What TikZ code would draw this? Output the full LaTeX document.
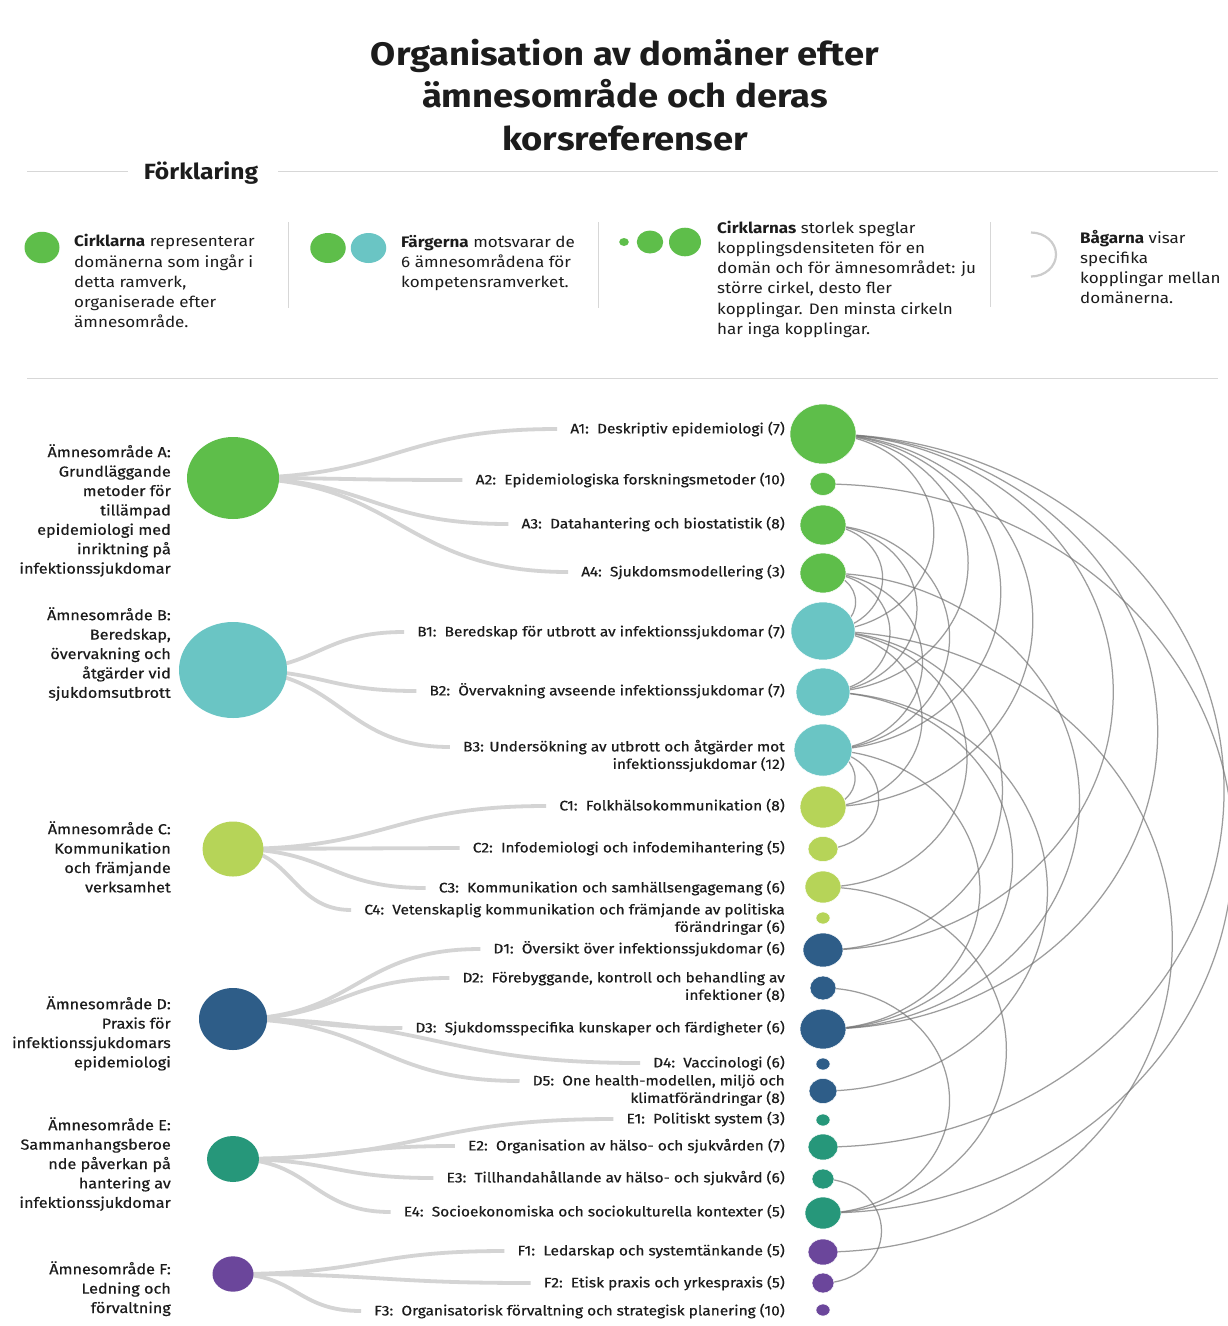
\documentclass[tikz,border=0pt]{standalone}
\usepackage{fontspec}
\setmainfont{Fira Sans}[FakeStretch=1.12]
\newfontfamily\medfont{Fira Sans}[FakeStretch=1.12, FakeBold=0.5]
\usetikzlibrary{shapes.geometric,calc}
\definecolor{cA}{RGB}{94,190,74}
\definecolor{cB}{RGB}{106,197,196}
\definecolor{cC}{RGB}{182,212,88}
\definecolor{cD}{RGB}{46,93,136}
\definecolor{cE}{RGB}{38,151,122}
\definecolor{cF}{RGB}{107,70,155}
\definecolor{txt}{RGB}{28,28,28}
\definecolor{lightline}{RGB}{212,212,212}
\definecolor{sepline}{RGB}{215,215,215}
\pgfdeclarelayer{bg}
\pgfsetlayers{bg,main}
\newcommand\mkleaf[5]{\node[leaf, fill=#2, minimum width=#4*2pt, minimum height=#5*2pt] (#1) at (823,-#3) {};}
\newcommand\mklabel[3]{\node[lbl] (l#1) at (785,{-(#2-8.3)}) {\rule{0pt}{12.5pt}#3};}
\newcommand\conn[2]{\draw[arcline] let \p1=(#1.center), \p2=(#2.center), \n1={(\y1-\y2)/2} in (\p1) arc[start angle=90, end angle=-90, x radius={1.125*\n1}, y radius={\n1}];}
\newcommand\gconn[2]{\draw[grpline] let \p1=(#1.center), \p2=($(l#2.north west)+(-13,-8.3)$) in (\p1) .. controls ({(\x1+\x2)/2},\y1) and ({(\x1+\x2)/2},\y2) .. (\p2);}
\begin{document}
\begin{tikzpicture}[x=1pt,y=1pt,
  leaf/.style={ellipse, inner sep=0pt, draw=white, line width=0.5pt},
  grp/.style={ellipse, inner sep=0pt},
  lbl/.style={anchor=north east, align=right, inner sep=0pt, font=\medfont\fontsize{13.8}{17.5}\selectfont, text=txt},
  glbl/.style={anchor=north east, align=right, inner sep=0pt, font=\medfont\fontsize{14.5}{19.4}\selectfont, text=txt},
  leg/.style={anchor=north west, align=left, inner sep=0pt, font=\fontsize{15.2}{20.3}\selectfont, text=txt},
  arcline/.style={draw=black!55, line width=1.25pt, opacity=0.7},
  grpline/.style={draw=lightline, line width=3.8pt},
  sep/.style={draw=sepline, line width=0.9pt}]
\useasboundingbox (0,0) rectangle (1228,-1326);
\clip (0,0) rectangle (1228,-1326);
\begin{pgfonlayer}{bg}
\fill[white] (0,0) rectangle (1228,-1326);
\end{pgfonlayer}

% title
\node[anchor=north, align=center, inner sep=0pt, font=\bfseries\fontsize{32.5}{42.5}\selectfont, text=txt] (title) at (625,-34)
  {\rule{0pt}{31pt}Organisation av domäner efter\\ämnesområde och deras\\korsreferenser};

% legend header
\node[anchor=base, inner sep=0pt, font=\bfseries\fontsize{22}{26}\selectfont, text=txt] (fork) at (201,-179) {Förklaring};
\draw[sep] (27,-171) -- (128,-171);
\draw[sep] (278,-171) -- (1218,-171);
\draw[sep] (27,-378) -- (1218,-378);
\draw[sep] (288,-222) -- (288,-308);
\draw[sep] (598,-222) -- (598,-308);
\draw[sep] (990,-222) -- (990,-307);

% legend items
\node[ellipse, inner sep=0pt, fill=cA, minimum width=35pt, minimum height=31.5pt] (lg1) at (42,-247.5) {};
\node[leg] (lt1) at (74,{-(246.5-14.5)}) {\rule{0pt}{14.5pt}\textbf{Cirklarna} representerar\\domänerna som ingår i\\detta ramverk,\\organiserade efter\\ämnesområde.};
\node[ellipse, inner sep=0pt, fill=cA, minimum width=35.5pt, minimum height=30pt] (lg2a) at (328,-248) {};
\node[ellipse, inner sep=0pt, fill=cB, minimum width=35.5pt, minimum height=30pt] (lg2b) at (368.5,-248) {};
\node[leg] (lt2) at (401,{-(246.8-14.5)}) {\rule{0pt}{14.5pt}\textbf{Färgerna} motsvarar de\\6 ämnesområdena för\\kompetensramverket.};
\node[ellipse, inner sep=0pt, fill=cA, minimum width=9.6pt, minimum height=8pt] (lg3a) at (624,-242) {};
\node[ellipse, inner sep=0pt, fill=cA, minimum width=26.4pt, minimum height=23pt] (lg3b) at (650,-242) {};
\node[ellipse, inner sep=0pt, fill=cA, minimum width=32pt, minimum height=28.6pt] (lg3c) at (685,-242) {};
\node[leg] (lt3) at (717,{-(232.8-14.5)}) {\rule{0pt}{14.5pt}\textbf{Cirklarnas} storlek speglar\\kopplingsdensiteten för en\\domän och för ämnesområdet: ju\\större cirkel, desto fler\\kopplingar. Den minsta cirkeln\\har inga kopplingar.};
\draw[draw=black!20, line width=2.2pt] (1031,-232.5) arc[start angle=90, end angle=-90, x radius=25pt, y radius=22pt];
\node[leg] (lt4) at (1080,{-(242.8-14.5)}) {\rule{0pt}{14.5pt}\textbf{Bågarna} visar\\specifika\\kopplingar mellan\\domänerna.};

% group circles
\node[grp, fill=cA, minimum width=92pt, minimum height=82pt] (gA) at (233,-478) {};
\node[grp, fill=cB, minimum width=108pt, minimum height=96pt] (gB) at (233,-670) {};
\node[grp, fill=cC, minimum width=61pt, minimum height=55pt] (gC) at (233,-849) {};
\node[grp, fill=cD, minimum width=68pt, minimum height=62pt] (gD) at (233,-1019) {};
\node[grp, fill=cE, minimum width=52pt, minimum height=46pt] (gE) at (233,-1159) {};
\node[grp, fill=cF, minimum width=41pt, minimum height=35.4pt] (gF) at (233,-1274) {};

% group labels
\node[glbl] (tA) at (171,{-(457-14.5)}) {\rule{0pt}{14.5pt}Ämnesområde A:\\Grundläggande\\metoder för\\tillämpad\\epidemiologi med\\inriktning på\\infektionssjukdomar};
\node[glbl] (tB) at (171,{-(620-14.5)}) {\rule{0pt}{14.5pt}Ämnesområde B:\\Beredskap,\\övervakning och\\åtgärder vid\\sjukdomsutbrott};
\node[glbl] (tC) at (171,{-(834-14.5)}) {\rule{0pt}{14.5pt}Ämnesområde C:\\Kommunikation\\och främjande\\verksamhet};
\node[glbl] (tD) at (171,{-(1009-14.5)}) {\rule{0pt}{14.5pt}Ämnesområde D:\\Praxis för\\infektionssjukdomars\\epidemiologi};
\node[glbl] (tE) at (171,{-(1130-14.5)}) {\rule{0pt}{14.5pt}Ämnesområde E:\\Sammanhangsberoe\\nde påverkan på\\hantering av\\infektionssjukdomar};
\node[glbl] (tF) at (171,{-(1274-14.5)}) {\rule{0pt}{14.5pt}Ämnesområde F:\\Ledning och\\förvaltning};

% leaf circles
\mkleaf{A1}{cA}{434}{33}{30}
\mkleaf{A2}{cA}{484}{13}{11.5}
\mkleaf{A3}{cA}{525}{23}{20}
\mkleaf{A4}{cA}{573}{23}{20}
\mkleaf{B1}{cB}{631}{32}{29}
\mkleaf{B2}{cB}{692}{27}{24}
\mkleaf{B3}{cB}{750}{29}{26}
\mkleaf{C1}{cC}{807}{23}{21}
\mkleaf{C2}{cC}{849}{15}{12.5}
\mkleaf{C3}{cC}{887}{18}{16}
\mkleaf{C4}{cC}{918}{7}{6}
\mkleaf{D1}{cD}{950}{20}{17}
\mkleaf{D2}{cD}{988}{13}{12}
\mkleaf{D3}{cD}{1029}{23}{20}
\mkleaf{D4}{cD}{1064}{7}{6}
\mkleaf{D5}{cD}{1091}{14}{12.5}
\mkleaf{E1}{cE}{1120}{7}{6}
\mkleaf{E2}{cE}{1147}{15}{13}
\mkleaf{E3}{cE}{1179}{11}{10}
\mkleaf{E4}{cE}{1213}{18}{16}
\mkleaf{F1}{cF}{1252}{15}{13}
\mkleaf{F2}{cF}{1283}{11}{10}
\mkleaf{F3}{cF}{1310}{7}{6}

% leaf labels
\mklabel{A1}{429}{A1:\ \ Deskriptiv epidemiologi (7)}
\mklabel{A2}{480}{A2:\ \ Epidemiologiska forskningsmetoder (10)}
\mklabel{A3}{524}{A3:\ \ Datahantering och biostatistik (8)}
\mklabel{A4}{572}{A4:\ \ Sjukdomsmodellering (3)}
\mklabel{B1}{632}{B1:\ \ Beredskap för utbrott av infektionssjukdomar (7)}
\mklabel{B2}{691}{B2:\ \ Övervakning avseende infektionssjukdomar (7)}
\mklabel{B3}{747}{B3: Undersökning av utbrott och åtgärder mot\\infektionssjukdomar (12)}
\mklabel{C1}{806}{C1:\ \ Folkhälsokommunikation (8)}
\mklabel{C2}{848}{C2:\ \ Infodemiologi och infodemihantering (5)}
\mklabel{C3}{888}{C3:\ \ Kommunikation och samhällsengagemang (6)}
\mklabel{C4}{910}{C4:\ \ Vetenskaplig kommunikation och främjande av politiska\\förändringar (6)}
\mklabel{D1}{949}{D1:\ \ Översikt över infektionssjukdomar (6)}
\mklabel{D2}{978}{D2:\ \ Förebyggande, kontroll och behandling av\\infektioner (8)}
\mklabel{D3}{1028}{D3:\ \ Sjukdomsspecifika kunskaper och färdigheter (6)}
\mklabel{D4}{1063}{D4:\ \ Vaccinologi (6)}
\mklabel{D5}{1081}{D5:\ \ One health-modellen, miljö och\\klimatförändringar (8)}
\mklabel{E1}{1119}{E1:\ \ Politiskt system (3)}
\mklabel{E2}{1146}{E2:\ \ Organisation av hälso- och sjukvården (7)}
\mklabel{E3}{1178}{E3:\ \ Tillhandahållande av hälso- och sjukvård (6)}
\mklabel{E4}{1212}{E4:\ \ Socioekonomiska och sociokulturella kontexter (5)}
\mklabel{F1}{1251}{F1:\ \ Ledarskap och systemtänkande (5)}
\mklabel{F2}{1283}{F2:\ \ Etisk praxis och yrkespraxis (5)}
\mklabel{F3}{1311}{F3:\ \ Organisatorisk förvaltning och strategisk planering (10)}

\begin{pgfonlayer}{bg}
% group to domain connectors
\gconn{gA}{A1}\gconn{gA}{A2}\gconn{gA}{A3}\gconn{gA}{A4}
\gconn{gB}{B1}\gconn{gB}{B2}\gconn{gB}{B3}
\gconn{gC}{C1}\gconn{gC}{C2}\gconn{gC}{C3}\gconn{gC}{C4}
\gconn{gD}{D1}\gconn{gD}{D2}\gconn{gD}{D3}\gconn{gD}{D4}\gconn{gD}{D5}
\gconn{gE}{E1}\gconn{gE}{E2}\gconn{gE}{E3}\gconn{gE}{E4}
\gconn{gF}{F1}\gconn{gF}{F2}\gconn{gF}{F3}
% cross-reference arcs
\conn{A1}{B1}\conn{A1}{B2}\conn{A1}{B3}\conn{A1}{C1}\conn{A1}{D1}\conn{A1}{D3}\conn{A1}{E2}
\conn{A2}{E4}
\conn{A3}{B1}\conn{A3}{B2}\conn{A3}{B3}
\conn{A4}{B1}\conn{A4}{B2}\conn{A4}{B3}\conn{A4}{D3}
\conn{B1}{C1}\conn{B1}{C3}\conn{B1}{D1}\conn{B1}{F1}
\conn{B2}{D3}\conn{B2}{D5}
\conn{B3}{C1}\conn{B3}{C2}\conn{B3}{D3}
\conn{C3}{E4}\conn{D2}{E4}\conn{E3}{F2}
\end{pgfonlayer}
\end{tikzpicture}
\end{document}
